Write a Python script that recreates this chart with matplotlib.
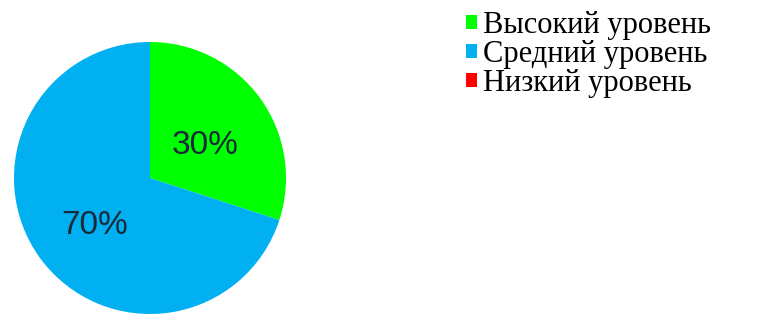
import matplotlib.pyplot as plt
from matplotlib.transforms import ScaledTranslation

# данные диаграммы
labels = ["Высокий уровень", "Средний уровень", "Низкий уровень"]
values = [30, 70, 0]
colors = ["#00FF00", "#00B0F0", "#FF0000"]

fig = plt.figure(figsize=(7.69, 3.16), dpi=100)
ax = fig.add_axes([14 / 769, 2 / 316, 272 / 769, 272 / 316])

wedges, texts, autotexts = ax.pie(
    values, colors=colors, startangle=90, counterclock=False,
    autopct=lambda p: f"{p:.0f}%" if p > 0 else "", pctdistance=0.5,
    textprops=dict(fontsize=24, family="Liberation Sans", color="#1a2a3a",
                   va="center_baseline"),
)
# чуть ниже, как в оригинале
shift = ScaledTranslation(0, -4 / 100, fig.dpi_scale_trans)
for t in autotexts:
    t.set_transform(t.get_transform() + shift)
ax.set_xlim(-1, 1)
ax.set_ylim(-1, 1)
ax.axis("off")

fig.legend(
    wedges, labels, loc="upper left", bbox_to_anchor=(466 / 769, 1 - 11 / 316),
    frameon=False, prop=dict(family="Liberation Serif", size=22),
    handlelength=0.35, handleheight=0.35, handletextpad=0.22,
    labelspacing=0.0, borderpad=0, borderaxespad=0,
)

fig.savefig("out.png", dpi=100)
